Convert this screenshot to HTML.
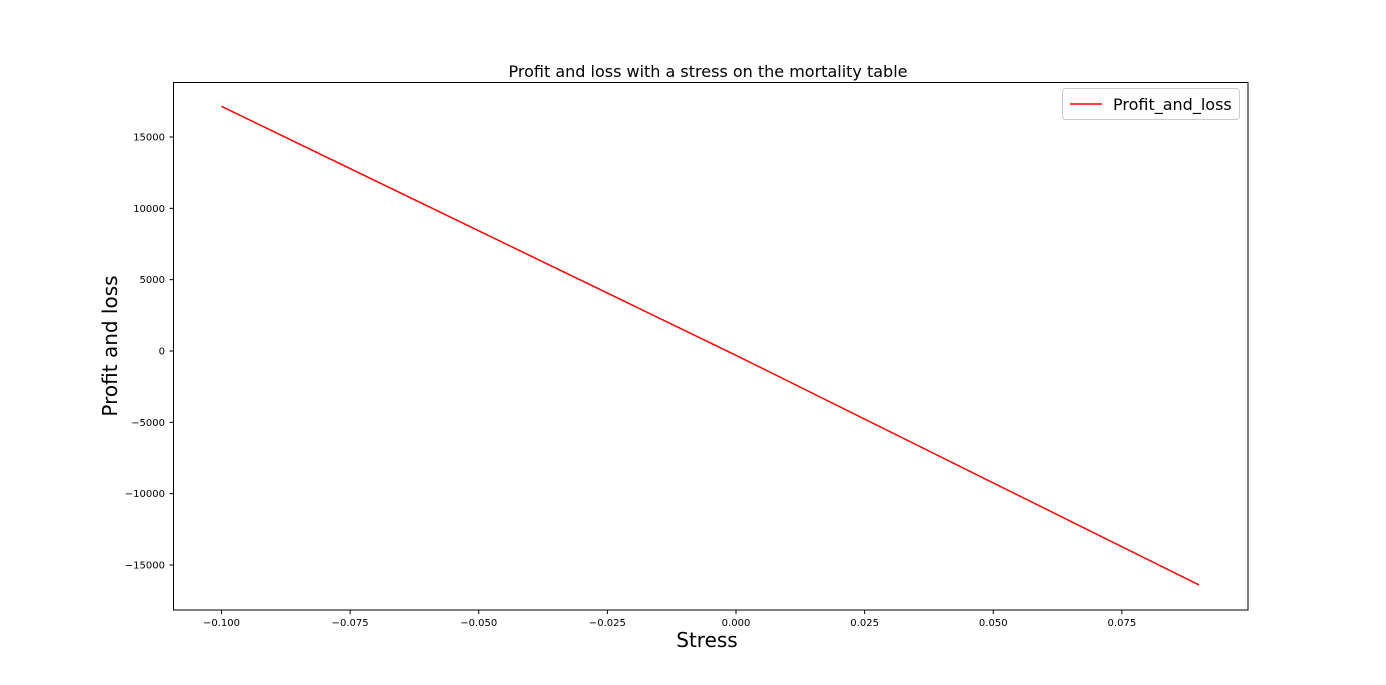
<!DOCTYPE html>
<html><head><meta charset="utf-8"><style>
html,body{margin:0;padding:0;background:#fff;}
svg{display:block;font-family:"DejaVu Sans","Liberation Sans",sans-serif;}
</style></head><body>
<svg id="chart" width="1386" height="685">
<text x="708" y="77" text-anchor="middle" font-size="16">Profit and loss with a stress on the mortality table</text>
<text x="707" y="647" text-anchor="middle" font-size="20">Stress</text>
<text transform="translate(117,346) rotate(-90)" text-anchor="middle" font-size="20">Profit and loss</text>
<g id="xt"></g>
<g id="yt"></g>
<path id="line" fill="none" stroke="#ff0000" stroke-width="1.5"></path>
<rect x="173.5" y="82.5" width="1074.5" height="527.5" fill="none" stroke="#000" stroke-width="1"></rect>
<g>
<rect x="1062.5" y="88.5" width="177" height="31" rx="3" fill="#fff" stroke="#ccc"></rect>
<line x1="1070" y1="104" x2="1102" y2="104" stroke="#ff0000" stroke-width="1.5"></line>
<text x="1113" y="110" font-size="16">Profit_and_loss</text>
</g>
</svg>
<script>
const xs = [-0.1, 0, 0.09];
const pnl = [17150, -300, -16400];
const xTicks = [-0.1, -0.075, -0.05, -0.025, 0, 0.025, 0.05, 0.075];
const xTickLabels = ["\u22120.100","\u22120.075","\u22120.050","\u22120.025","0.000","0.025","0.050","0.075"];
const yTicks = [15000, 10000, 5000, 0, -5000, -10000, -15000];
const yTickLabels = ["15000","10000","5000","0","\u22125000","\u221210000","\u221215000"];
const X = v => 736 + v * (514.5 / 0.1);
const Y = v => 351 - v * (214 / 15000);
const ns = "http://www.w3.org/2000/svg";
const xt = document.getElementById('xt'), yt = document.getElementById('yt');
xTicks.forEach((t, i) => {
  const l = document.createElementNS(ns, 'line');
  l.setAttribute('x1', X(t)); l.setAttribute('x2', X(t)); l.setAttribute('y1', 610); l.setAttribute('y2', 614);
  l.setAttribute('stroke', '#000');
  
  
  xt.appendChild(l);
  const s = document.createElementNS(ns, 'text');
  s.setAttribute('x', X(t)); s.setAttribute('y', 626); s.setAttribute('text-anchor', 'middle'); s.setAttribute('font-size', '10');
  s.textContent = xTickLabels[i];
  
  
  xt.appendChild(s);
});
yTicks.forEach((t, i) => {
  const l = document.createElementNS(ns, 'line');
  l.setAttribute('x1', 169.5); l.setAttribute('x2', 173.5); l.setAttribute('y1', Y(t)); l.setAttribute('y2', Y(t));
  l.setAttribute('stroke', '#000');
  
  
  yt.appendChild(l);
  const s = document.createElementNS(ns, 'text');
  s.setAttribute('x', 165); s.setAttribute('y', Y(t) + 3.5); s.setAttribute('text-anchor', 'end'); s.setAttribute('font-size', '10');
  s.textContent = yTickLabels[i];
  
  
  yt.appendChild(s);
});
document.getElementById('line').setAttribute('d', xs.map((v, i) => (i ? 'L' : 'M') + X(v) + ',' + Y(pnl[i])).join(' '));
</script>
</body></html>
